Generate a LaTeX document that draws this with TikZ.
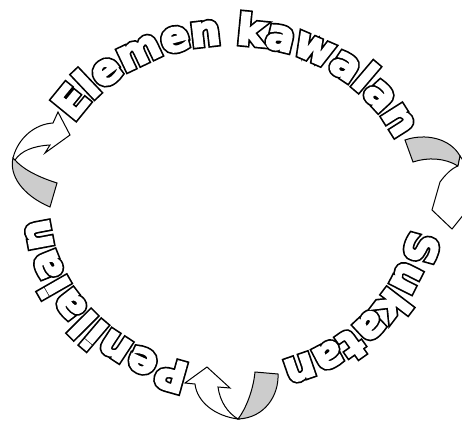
\documentclass[tikz,border=0pt]{standalone}
\usepackage{fontspec}
\usetikzlibrary{decorations.text}
\newfontfamily\wafont{DejaVu Sans}[RawFeature={embolden=5}]
\newfontfamily\waout{DejaVu Sans}[RawFeature={embolden=13}]
\newcommand\wablack{\waout\bfseries\fontsize{42}{42}\selectfont\color{black}}
\newcommand\wawhite{\wafont\bfseries\fontsize{42}{42}\selectfont\color{white}}
\tikzset{
  ribbonfront/.style={draw=black, line width=1bp, fill=white, line join=miter},
  ribbonback/.style={draw=black, line width=1bp, fill=black!20, line join=miter},
  wordart/.style={decorate, decoration={text along path, text align=center, text={#1}}}
}
\begin{document}
\begin{tikzpicture}[x=1bp, y=1bp]
\useasboundingbox (0,0) rectangle (462,421);
\clip (0,0) rectangle (462,421);
\coordinate (c) at (230,215);
% outlined text: black emboldened pass, then white pass on top
\foreach \fmt in {\wablack, \wawhite} {
  \path[wordart={|\fmt|Elemen kawalan}] (c) ++(176.5:182 and 162) arc[start angle=176.5, end angle=-3.5, x radius=182, y radius=162];
  \path[wordart={|\fmt|Sukatan}] (c) ++(10:182 and 162) arc[start angle=10, end angle=-90, x radius=182, y radius=162];
  \path[wordart={|\fmt|Penilaian}] (c) ++(-90:182 and 162) arc[start angle=-90, end angle=-190, x radius=182, y radius=162];
}
\begin{scope}[shift={(0,421)}, yscale=-1]
% left arrow
\coordinate (la) at (13,158);
\coordinate (lb) at (15,160);
\draw[ribbonback] (la) .. controls (9,175) and (22,195) .. (50,207) -- (57,183) .. controls (35,176) and (22,168) .. (lb) -- cycle;
\draw[ribbonfront] (la) .. controls (18,138) and (35,124) .. (53,123) -- (58,112) -- (70,135) -- (45,153) -- (50,145) .. controls (33,146) and (21,151) .. (lb) -- cycle;
% right arrow
\coordinate (ra) at (460,156);
\coordinate (rb) at (458,166);
\draw[ribbonback] (405,140) .. controls (425,133) and (450,138) .. (ra) -- (rb) .. controls (445,158) and (428,157) .. (413,162) -- cycle;
\draw[ribbonfront] (ra) .. controls (468,165) and (468,185) .. (465,196) -- (472,204) -- (452,229) -- (432,210) -- (440,182) .. controls (445,175) and (452,168) .. (rb) -- cycle;
% bottom arrow
\coordinate (ba) at (238,419);
\draw[ribbonback] (255,372) -- (278,374) .. controls (279,395) and (265,418) .. (ba) .. controls (245,410) and (253,392) .. (255,372) -- cycle;
\draw[ribbonfront] (ba) .. controls (215,416) and (197,402) .. (195,384) -- (185,383) -- (207,367) -- (230,388) -- (218,387) .. controls (220,402) and (228,413) .. (ba) -- cycle;
\end{scope}
\end{tikzpicture}
\end{document}
